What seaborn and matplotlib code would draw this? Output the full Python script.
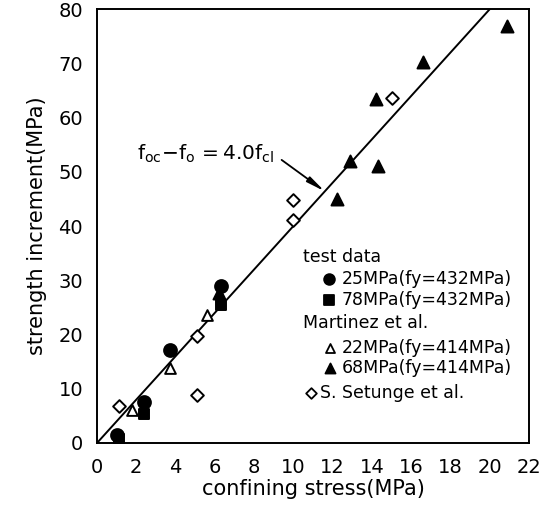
import numpy as np
import pandas as pd
import matplotlib
matplotlib.use("Agg")
import matplotlib.pyplot as plt
import seaborn as sns

# ---- data ----
c25_x = [1.0, 2.4, 3.7, 6.3]
c25_y = [1.5, 7.6, 17.2, 29.0]
s78_x = [1.1, 2.4, 6.3]
s78_y = [0.7, 5.4, 25.4]
t22_x = [1.8, 3.7, 5.6]
t22_y = [6.0, 13.8, 23.6]
t68_x = [6.2, 12.2, 12.9, 14.3, 14.2, 16.6, 20.9]
t68_y = [27.6, 45.0, 52.0, 51.1, 63.4, 70.2, 76.9]
d_x = [1.1, 5.1, 5.1, 10.0, 10.0, 15.0]
d_y = [6.8, 19.7, 8.8, 44.8, 41.1, 63.7]
line_x = [0, 20]
line_y = [0, 80]

x_ticks = list(range(0, 23, 2))
y_ticks = list(range(0, 81, 10))

labels = ["25MPa(fy=432MPa)", "78MPa(fy=432MPa)",
          "22MPa(fy=414MPa)", "68MPa(fy=414MPa)", "S. Setunge et al."]
headers = ["test data", "Martinez et al."]

sns.set_theme(style="white")
plt.rcParams['font.family'] = ['DejaVu Sans']
plt.rcParams['text.color'] = 'black'
plt.rcParams['axes.labelcolor'] = 'black'
plt.rcParams['mathtext.default'] = 'regular'

fig = plt.figure(figsize=(5.56, 5.11), dpi=100)
ax = fig.add_axes([0.1745, 0.1331, 0.777, 0.849])

sns.lineplot(x=line_x, y=line_y, ax=ax, color="black", lw=1.4)

styles = [
    (c25_x, c25_y, "o", "black", 85),
    (s78_x, s78_y, "s", "black", 60),
    (t22_x, t22_y, "^", "white", 60),
    (t68_x, t68_y, "^", "black", 75),
    (d_x, d_y, "D", "white", 42),
]
for xs, ys, m, fc, s in styles:
    sns.scatterplot(x=xs, y=ys, ax=ax, marker=m, s=s, facecolor=fc,
                    edgecolor="black", linewidth=1.4, zorder=3)

ax.set_xlim(0, 22)
ax.set_ylim(0, 80)
ax.set_xticks(x_ticks)
ax.set_yticks(y_ticks)
ax.tick_params(direction="in", length=6, width=1.3, labelsize=14, colors="black")
ax.tick_params(axis="x", pad=11)
ax.tick_params(axis="y", pad=10)
for sp in ax.spines.values():
    sp.set_color("black")
    sp.set_linewidth(1.4)

ax.set_xlabel("confining stress(MPa)", fontsize=15, labelpad=1)
ax.set_ylabel("strength increment(MPa)", fontsize=15, labelpad=8)

# annotation for the fitted line
ax.text(2.05, 53.3, r"f$_{oc}$$-$f$_{o}$$\,=$4.0f$_{cl}$", fontsize=14.5,
        va="center", ha="left")
ax.annotate("", xy=(11.6, 46.4), xytext=(9.4, 52.2),
            arrowprops=dict(arrowstyle="-|>,head_length=0.9,head_width=0.15",
                            color="black", lw=1.3, shrinkA=0, shrinkB=0))

# legend (manual, in axes fraction)
def fx(px):
    return (px - 97) / 432.0

def fy(py):
    return (443 - py) / 434.0

fs = 12.5
ax.text(fx(303), fy(257), headers[0], transform=ax.transAxes, fontsize=fs, va="center")
ax.text(fx(303), fy(323), headers[1], transform=ax.transAxes, fontsize=fs, va="center")
rows = [(329, 278.5, 342, 0), (329, 300, 342, 1), (330, 348, 342, 2),
        (330, 368, 342, 3), (311, 392.5, 320, 4)]
for mx, my, tx, i in rows:
    xs, ys, m, fc, s = styles[i]
    ax.scatter([fx(mx)], [fy(my)], transform=ax.transAxes, marker=m, s=s * 0.7,
               facecolor=fc, edgecolor="black", linewidth=1.3, zorder=3, clip_on=False)
    ax.text(fx(tx), fy(my), labels[i], transform=ax.transAxes, fontsize=fs, va="center")

fig.savefig("out.png", dpi=100)
